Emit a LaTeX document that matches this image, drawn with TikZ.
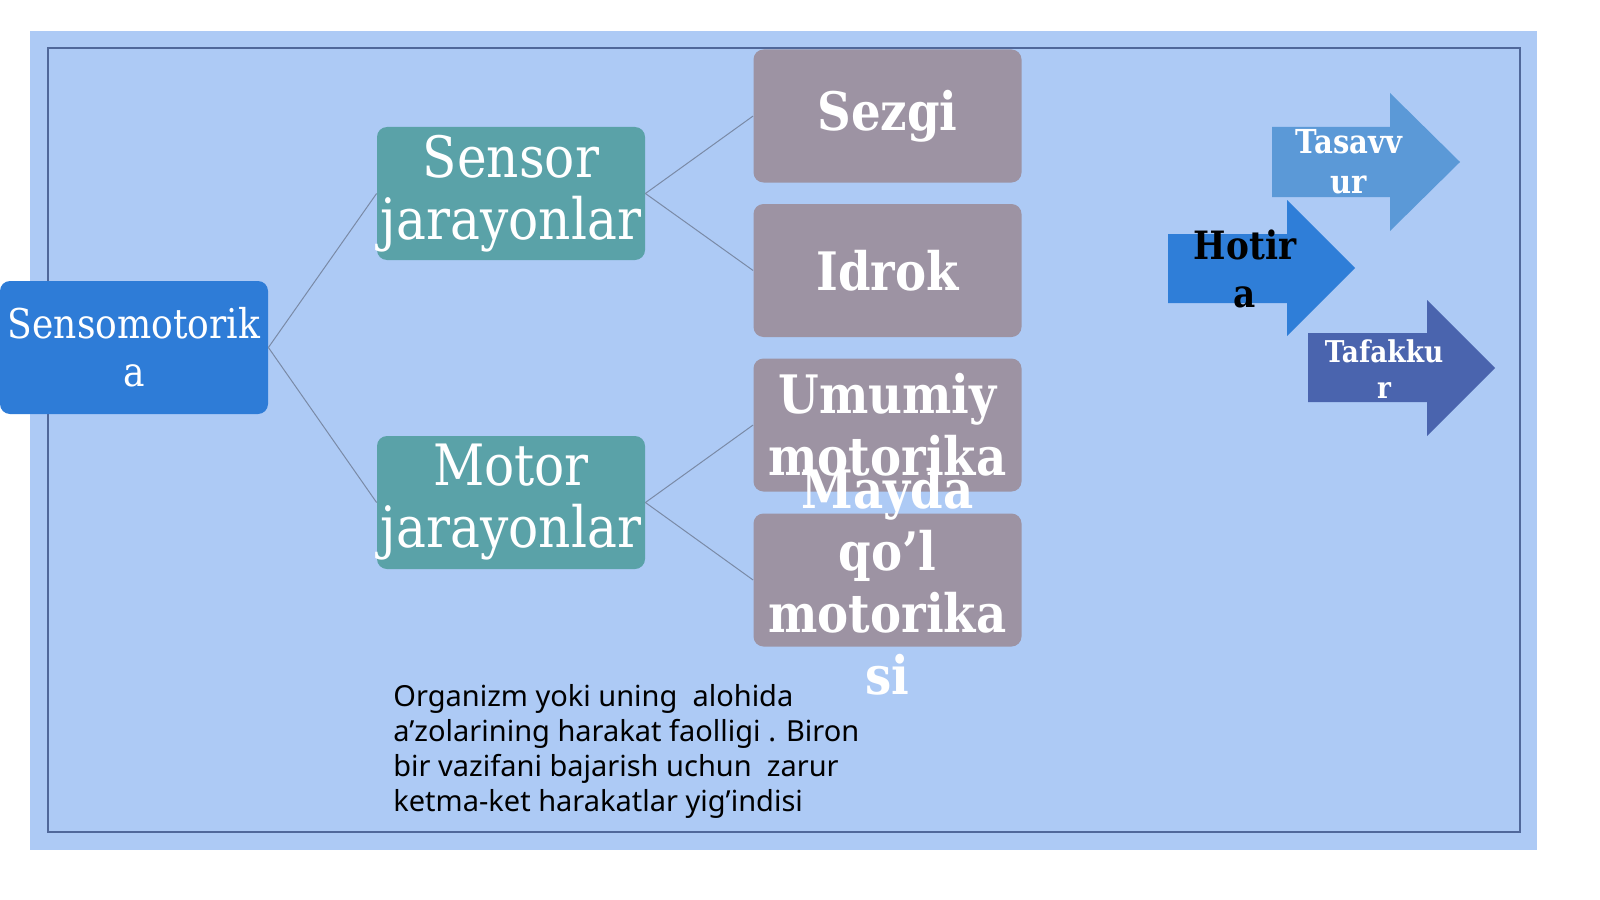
\documentclass[tikz,border=0pt]{standalone}
\usepackage{fontspec}
\setmainfont{DejaVu Serif}
\newfontfamily\boxfont[FakeStretch=0.88]{DejaVu Serif}
\newfontfamily\descfont{Noto Sans}
\definecolor{bgc}{HTML}{ADCAF5}
\definecolor{framec}{HTML}{50689A}
\definecolor{linkc}{HTML}{7A8AA6}
\definecolor{rootc}{HTML}{2E7CD7}
\definecolor{midc}{HTML}{5AA2A8}
\definecolor{leafc}{HTML}{9D93A3}
\definecolor{tasc}{HTML}{5B99D7}
\definecolor{hotc}{HTML}{2F7ED8}
\definecolor{tafc}{HTML}{4A64AE}
\tikzset{
  box/.style={rounded corners=5pt, minimum width=134pt, minimum height=66.5pt, inner sep=0pt, align=center, text=white},
  rootbox/.style={box, fill=rootc, font=\boxfont\fontsize{20.5pt}{24pt}\selectfont},
  midbox/.style={box, fill=midc, font=\boxfont\fontsize{28.5pt}{31pt}\selectfont},
  leafbox/.style={box, fill=leafc, font=\boxfont\bfseries\fontsize{26.5pt}{31pt}\selectfont},
  leaftext/.style={inner sep=0pt, align=center, text=white, font=\boxfont\bfseries\fontsize{26.5pt}{31pt}\selectfont},
  link/.style={draw=linkc, line width=0.5pt},
  arrowtext/.style={inner sep=0pt, align=center, font=\boxfont\bfseries},
}
\begin{document}
\begin{tikzpicture}[x=0.5pt, y=-0.5pt]
\useasboundingbox (0,0) rectangle (1600,899);
\fill[white] (0,0) rectangle (1600,899);
\fill[bgc] (30,31) rectangle (1537,850);
\draw[framec, line width=0.6pt] (48,48) rectangle (1520,832);

% tree boxes
\node[rootbox] (senso) at (134,347.5) {Sensomotorik\\a};
\node[midbox] (sensor) at (511,193.5) {Sensor\\jarayonlar};
\node[midbox] (motor) at (511,502.5) {Motor\\jarayonlar};
\node[leafbox] (sezgi) at (887.5,116) {Sezgi};
\node[leafbox] (idrok) at (887.5,270.5) {Idrok};
\node[leafbox] (umumiy) at (887.5,425) {Umumiy\\motorika};
\node[leafbox] (mayda) at (887.5,580) {};
\node[leaftext] (maydatext) at (887.5,582) {Mayda\\qo’l\\motorika\\si};

% connectors
\draw[link] (senso.east) -- (sensor.west);
\draw[link] (senso.east) -- (motor.west);
\draw[link] (sensor.east) -- (sezgi.west);
\draw[link] (sensor.east) -- (idrok.west);
\draw[link] (motor.east) -- (umumiy.west);
\draw[link] (motor.east) -- (mayda.west);

% block arrows
\fill[tasc] (1272,127) -- (1390,127) -- (1390,93) -- (1460,162) -- (1390,231) -- (1390,197) -- (1272,197) -- cycle;
\node[arrowtext, text=white, font=\boxfont\bfseries\fontsize{16.5pt}{20pt}\selectfont] (tasavvur) at (1349,162) {Tasavv\\ur};
\fill[hotc] (1168,234) -- (1287,234) -- (1287,200) -- (1355,268) -- (1287,336) -- (1287,303) -- (1168,303) -- cycle;
\node[arrowtext, text=black, font=\boxfont\bfseries\fontsize{19.5pt}{24pt}\selectfont] (hotira) at (1245,269) {Hotir\\a};
\fill[tafc] (1308,333) -- (1427,333) -- (1427,300) -- (1495,368) -- (1427,436) -- (1427,402) -- (1308,402) -- cycle;
\node[arrowtext, text=white, font=\boxfont\bfseries\fontsize{15pt}{18pt}\selectfont] (tafakkur) at (1384,369) {Tafakku\\r};

% description
\node[anchor=north west, inner sep=0pt, align=left, text=black, font=\descfont\fontsize{14.5pt}{17.5pt}\selectfont] (desc) at (393,684)
  {Organizm yoki uning\ \ alohida\\a’zolarining harakat faolligi . Biron\\bir vazifani bajarish uchun\ \ zarur\\ketma-ket harakatlar yig’indisi};
\end{tikzpicture}
\end{document}
